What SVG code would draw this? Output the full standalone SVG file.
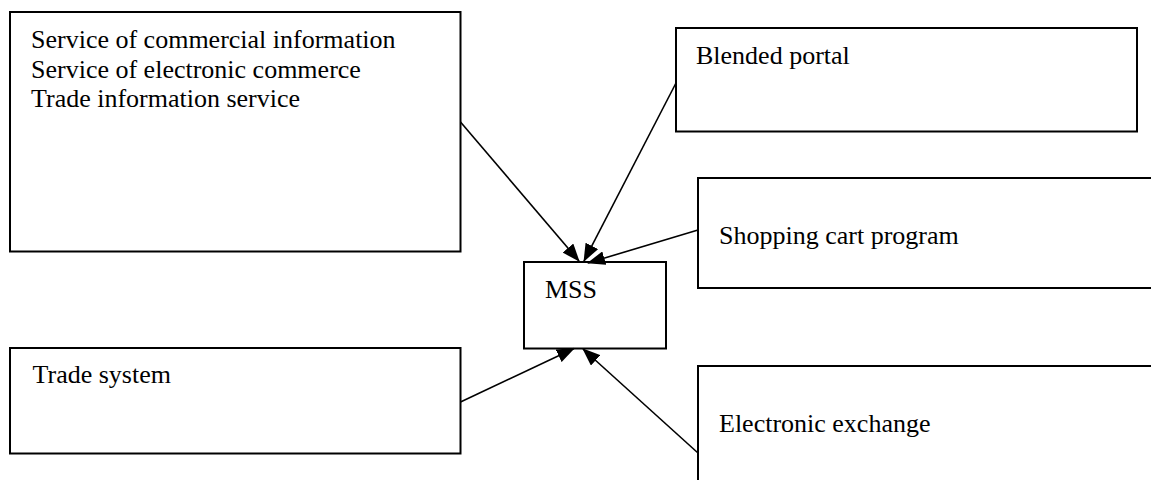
<svg xmlns="http://www.w3.org/2000/svg" width="1151" height="480" viewBox="0 0 1151 480">
<style>
.box{fill:#fff;stroke:#000;stroke-width:2}
.lbl{font-family:'Liberation Serif','Times New Roman','DejaVu Serif',serif;font-size:26px;fill:#000}
.edge{stroke:#000;stroke-width:1.6;fill:none}
</style>
<defs>
<marker id="arr" markerUnits="userSpaceOnUse" markerWidth="18" markerHeight="14" viewBox="0 0 18 14" refX="17" refY="7" orient="auto">
<path d="M0,0 L18,7 L0,14 Z" fill="#000"/>
</marker>
</defs>
<rect width="1151" height="480" fill="#fff"/>
<g id="node-services">
<rect class="box" x="10" y="12" width="450.5" height="239.5"/>
<text class="lbl" font-family="Liberation Serif, serif" x="31" y="48">Service of commercial information</text>
<text class="lbl" font-family="Liberation Serif, serif" x="31" y="77.5">Service of electronic commerce</text>
<text class="lbl" font-family="Liberation Serif, serif" x="31" y="107">Trade information service</text>
</g>
<g id="node-blended">
<rect class="box" x="676" y="28" width="461" height="103.5"/>
<text class="lbl" font-family="Liberation Serif, serif" x="696" y="64">Blended portal</text>
</g>
<g id="node-shopping">
<rect class="box" x="698" y="178" width="460" height="110"/>
<text class="lbl" font-family="Liberation Serif, serif" x="719" y="244">Shopping cart program</text>
</g>
<g id="node-mss">
<rect class="box" x="524" y="262" width="142" height="86.5"/>
<text class="lbl" font-family="Liberation Serif, serif" x="545" y="298">MSS</text>
</g>
<g id="node-trade">
<rect class="box" x="10" y="348" width="450.5" height="105.5"/>
<text class="lbl" font-family="Liberation Serif, serif" x="32.5" y="383">Trade system</text>
</g>
<g id="node-exchange">
<rect class="box" x="698" y="366" width="460" height="130"/>
<text class="lbl" font-family="Liberation Serif, serif" x="719" y="432">Electronic exchange</text>
</g>
<g id="connectors">
<line class="edge" x1="460.5" y1="122" x2="579" y2="261" marker-end="url(#arr)"/>
<line class="edge" x1="676" y1="83" x2="584" y2="261" marker-end="url(#arr)"/>
<line class="edge" x1="698" y1="230" x2="588" y2="263" marker-end="url(#arr)"/>
<line class="edge" x1="460.5" y1="402" x2="574" y2="348.5" marker-end="url(#arr)"/>
<line class="edge" x1="698" y1="453" x2="583" y2="349" marker-end="url(#arr)"/>
</g>
</svg>
